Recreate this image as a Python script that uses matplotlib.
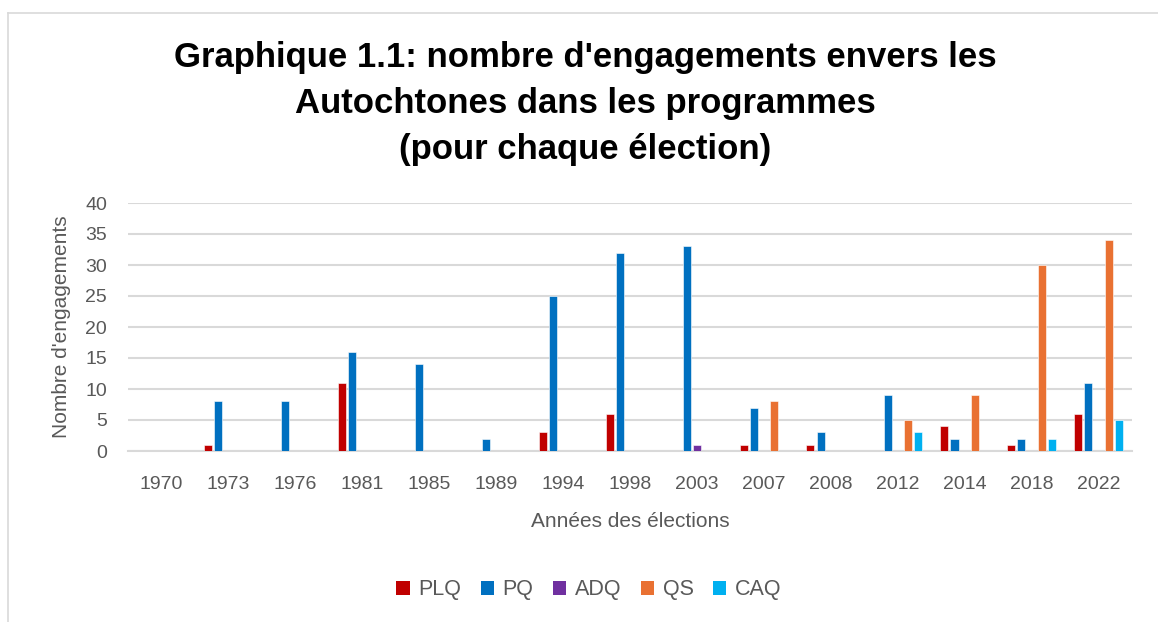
import matplotlib
matplotlib.use("Agg")
import matplotlib.pyplot as plt
from matplotlib.lines import Line2D
from matplotlib.patches import Patch
import numpy as np

years = ["1970", "1973", "1976", "1981", "1985", "1989", "1994", "1998",
         "2003", "2007", "2008", "2012", "2014", "2018", "2022"]
PLQ = [0, 1, 0, 11, 0, 0, 3, 6, 0, 1, 1, 0, 4, 1, 6]
PQ = [0, 8, 8, 16, 14, 2, 25, 32, 33, 7, 3, 9, 2, 2, 11]
ADQ = [0, 0, 0, 0, 0, 0, 0, 0, 1, 0, 0, 0, 0, 0, 0]
QS = [0, 0, 0, 0, 0, 0, 0, 0, 0, 8, 0, 5, 9, 30, 34]
CAQ = [0, 0, 0, 0, 0, 0, 0, 0, 0, 0, 0, 3, 0, 2, 5]
series_names = ["PLQ", "PQ", "ADQ", "QS", "CAQ"]
colors = ["#C00000", "#0070C0", "#7030A0", "#E97132", "#00B0F0"]
yticks = [0, 5, 10, 15, 20, 25, 30, 35, 40]

plt.rcParams['font.family'] = ['Liberation Sans', 'DejaVu Sans']

fig = plt.figure(figsize=(11.58, 6.22), dpi=100)
ax = fig.add_axes([128/1158, 1-451/622, (1132-128)/1158, (451-203)/622])

x = np.arange(len(years))
slot = 0.152
width = 0.12
for i, (vals, c) in enumerate(zip([PLQ, PQ, ADQ, QS, CAQ], colors)):
    ax.bar(x + (i - 2) * slot, vals, width=width, color=c, zorder=3,
           edgecolor='white', linewidth=0.4)

ax.set_xlim(-0.5, len(years) - 0.5)
ax.set_ylim(0, 40)
ax.set_yticks(yticks)
ax.set_xticks(x)
ax.set_xticklabels(years)
ax.grid(axis='y', color='#d9d9d9', linewidth=1.5, zorder=0)
ax.set_axisbelow(True)
for s in ['top', 'right', 'left']:
    ax.spines[s].set_visible(False)
ax.spines['bottom'].set_color('#d9d9d9')
ax.spines['bottom'].set_linewidth(1.5)
ax.tick_params(axis='both', length=0, labelsize=14, colors='#595959')
ax.tick_params(axis='y', pad=15)
ax.tick_params(axis='x', pad=18)

ax.set_ylabel("Nombre d'engagements", fontsize=15, color='#595959', labelpad=10)
ax.set_xlabel("Années des élections", fontsize=15, color='#595959', labelpad=14)

fig.text(585/1158, 1-103/622,
         "Graphique 1.1: nombre d'engagements envers les\nAutochtones dans les programmes\n(pour chaque élection)",
         ha='center', va='center', fontsize=25, fontweight='bold', color='black',
         linespacing=1.5)

handles = [Patch(facecolor=c, edgecolor='none') for c in colors]
fig.legend(handles, series_names, loc='center', bbox_to_anchor=(589/1158, 1-590/622),
           ncol=5, frameon=False, fontsize=15.5, handlelength=0.62, handleheight=0.62,
           handletextpad=0.4, columnspacing=0.9, labelcolor='#595959')

# chart border (top and left)
fig.add_artist(Line2D([8/1158, 1], [1-13/622, 1-13/622], color='#d9d9d9', linewidth=1.2))
fig.add_artist(Line2D([8/1158, 8/1158], [0, 1-13/622], color='#d9d9d9', linewidth=1.2))

fig.savefig("out.png", dpi=100)
